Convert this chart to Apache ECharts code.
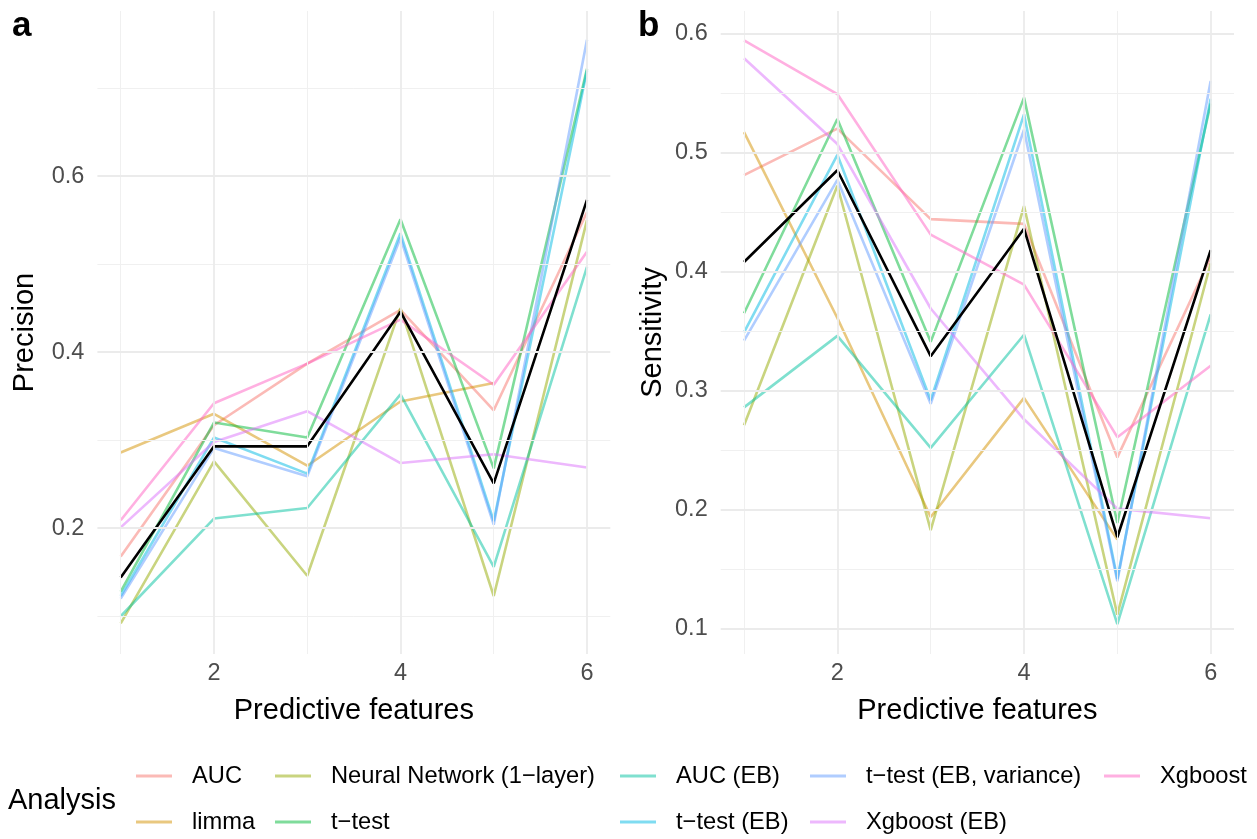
<!DOCTYPE html>
<html>
<head>
<meta charset="utf-8">
<script src="https://cdn.jsdelivr.net/npm/echarts@6/dist/echarts.min.js"></script>
<style>
html,body{margin:0;padding:0;background:#fff;}
#chart{width:1257px;height:839px;}
</style>
</head>
<body>
<div id="chart"></div>
<script>
// ---- data ----
const features = [1, 2, 3, 4, 5, 6];
const methods = ['AUC', 'limma', 'Neural Network (1\u2212layer)', 't\u2212test', 'AUC (EB)', 't\u2212test (EB)', 't\u2212test (EB, variance)', 'Xgboost (EB)', 'Xgboost'];

const precAUC        = [0.168, 0.317, 0.387, 0.448, 0.334, 0.559];
const precLimma      = [0.286, 0.330, 0.271, 0.344, 0.365, null];
const precNN         = [0.092, 0.276, 0.146, 0.450, 0.123, 0.550];
const precTtest      = [0.128, 0.320, 0.303, 0.551, 0.268, 0.722];
const precAucEB      = [0.100, 0.211, 0.223, 0.352, 0.156, 0.497];
const precTtestEB    = [0.123, 0.303, 0.262, 0.535, 0.208, 0.720];
const precTtestEBVar = [0.120, 0.291, 0.259, 0.530, 0.204, 0.755];
const precXgbEB      = [0.201, 0.298, 0.333, 0.274, 0.284, 0.269];
const precXgb        = [0.209, 0.342, 0.387, 0.437, 0.363, 0.514];
const precOverall    = [0.144, 0.293, 0.293, 0.446, 0.251, 0.573];

const sensAUC        = [0.481, 0.520, 0.444, 0.440, 0.244, 0.412];
const sensLimma      = [0.517, 0.361, 0.194, 0.294, 0.175, null];
const sensNN         = [0.271, 0.472, 0.183, 0.455, 0.112, 0.407];
const sensTtest      = [0.365, 0.528, 0.341, 0.546, 0.189, 0.541];
const sensAucEB      = [0.286, 0.346, 0.252, 0.347, 0.104, 0.364];
const sensTtestEB    = [0.349, 0.498, 0.292, 0.532, 0.142, 0.545];
const sensTtestEBVar = [0.342, 0.477, 0.289, 0.519, 0.140, 0.560];
const sensXgbEB      = [0.579, 0.507, 0.369, 0.276, 0.201, 0.193];
const sensXgb        = [0.594, 0.549, 0.431, 0.389, 0.261, 0.321];
const sensOverall    = [0.408, 0.485, 0.329, 0.436, 0.177, 0.418];

// tick labels / gridline positions
const xMajorTicks = [2, 4, 6];
const xMinorTicks = [1, 3, 5];
const precMajorTicks = [0.2, 0.4, 0.6];
const precMinorTicks = [0.1, 0.3, 0.5, 0.7];
const sensMajorTicks = [0.1, 0.2, 0.3, 0.4, 0.5, 0.6];
const sensMinorTicks = [0.15, 0.25, 0.35, 0.45, 0.55];

// ---- styles ----
const colors = ['rgba(248,118,109,0.5)', 'rgba(211,146,0,0.5)', 'rgba(147,170,0,0.5)', 'rgba(0,186,56,0.5)',
  'rgba(0,193,159,0.5)', 'rgba(0,185,227,0.5)', 'rgba(97,156,255,0.5)', 'rgba(219,114,251,0.5)', 'rgba(255,97,195,0.5)'];
const FONT = '"Liberation Sans", Arial, Helvetica, sans-serif';

const precSets = [precAUC, precLimma, precNN, precTtest, precAucEB, precTtestEB, precTtestEBVar, precXgbEB, precXgb];
const sensSets = [sensAUC, sensLimma, sensNN, sensTtest, sensAucEB, sensTtestEB, sensTtestEBVar, sensXgbEB, sensXgb];

function pairs(vals) { return features.map((f, i) => [f, vals[i]]); }

function gridLines(yMaj, yMin) {
  const major = {color: '#EBEBEB', width: 1.8, type: 'solid'};
  const minor = {color: '#F0F0F0', width: 1, type: 'solid'};
  const d = [];
  yMin.forEach(v => d.push({yAxis: v, lineStyle: minor}));
  xMinorTicks.forEach(v => d.push({xAxis: v, lineStyle: minor}));
  yMaj.forEach(v => d.push({yAxis: v, lineStyle: major}));
  xMajorTicks.forEach(v => d.push({xAxis: v, lineStyle: major}));
  return d;
}

const series = [];
[0, 1].forEach(gi => {
  const sets = gi === 0 ? precSets : sensSets;
  series.push({
    type: 'line', name: '__grid' + gi, xAxisIndex: gi, yAxisIndex: gi, data: [], z: 0, silent: true,
    markLine: {silent: true, symbol: ['none', 'none'], label: {show: false}, animation: false,
      data: gi === 0 ? gridLines(precMajorTicks, precMinorTicks) : gridLines(sensMajorTicks, sensMinorTicks)}
  });
  methods.forEach((m, i) => {
    series.push({
      type: 'line', name: m, xAxisIndex: gi, yAxisIndex: gi, data: pairs(sets[i]),
      showSymbol: false, symbol: 'none', connectNulls: false, z: 2,
      itemStyle: {color: colors[i]}, lineStyle: {color: colors[i], width: 2.6}
    });
  });
  series.push({
    type: 'line', name: 'Overall', xAxisIndex: gi, yAxisIndex: gi,
    data: pairs(gi === 0 ? precOverall : sensOverall),
    showSymbol: false, symbol: 'none', z: 3,
    itemStyle: {color: '#000'}, lineStyle: {color: '#000', width: 2.6}
  });
});

function xAxisDef(gi) {
  return {
    type: 'value', gridIndex: gi, min: 0.75, max: 6.25,
    name: 'Predictive features', nameLocation: 'middle', nameGap: 42,
    nameTextStyle: {fontSize: 29, color: '#000', fontFamily: FONT},
    axisLine: {show: false}, axisTick: {show: false}, splitLine: {show: false},
    axisLabel: {customValues: xMajorTicks, fontSize: 23.5, color: '#4D4D4D', margin: 8, fontFamily: FONT}
  };
}
function yAxisDef(gi, name, min, max, ticks, gap) {
  return {
    type: 'value', gridIndex: gi, min: min, max: max,
    name: name, nameLocation: 'middle', nameGap: gap, nameRotate: 90,
    nameTextStyle: {fontSize: 29, color: '#000', fontFamily: FONT},
    axisLine: {show: false}, axisTick: {show: false}, splitLine: {show: false},
    axisLabel: {customValues: ticks, fontSize: 23.5, color: '#4D4D4D', margin: 13, fontFamily: FONT,
      formatter: v => v.toFixed(1)}
  };
}

function legendCol(left, names) {
  return {
    left: left, top: 763, orient: 'vertical', padding: 0, itemGap: 20,
    itemWidth: 36, itemHeight: 3, icon: 'rect', data: names,
    selectedMode: false,
    textStyle: {fontSize: 23.7, color: '#000', fontFamily: FONT, lineHeight: 26, padding: [0, 0, 0, 15]}
  };
}

const option = {
  animation: false,
  backgroundColor: '#fff',
  textStyle: {fontFamily: FONT},
  title: [
    {text: 'a', left: 7, top: 4, textStyle: {fontSize: 35, fontWeight: 'bold', color: '#000', fontFamily: FONT}},
    {text: 'b', left: 633, top: 4, textStyle: {fontSize: 35, fontWeight: 'bold', color: '#000', fontFamily: FONT}},
    {text: 'Analysis', left: 3, top: 781, textStyle: {fontSize: 29, fontWeight: 'normal', color: '#000', fontFamily: FONT}}
  ],
  legend: [
    legendCol(136, [methods[0], methods[1]]),
    legendCol(275, [methods[2], methods[3]]),
    legendCol(620, [methods[4], methods[5]]),
    legendCol(810, [methods[6], methods[7]]),
    legendCol(1104, [methods[8]])
  ],
  grid: [
    {left: 97.4, top: 11, width: 512.9, height: 643},
    {left: 720.7, top: 11, width: 513.3, height: 643}
  ],
  xAxis: [xAxisDef(0), xAxisDef(1)],
  yAxis: [
    yAxisDef(0, 'Precision', 0.0571, 0.7876, precMajorTicks, 58),
    yAxisDef(1, 'Sensitivity', 0.079, 0.6187, sensMajorTicks, 53)
  ],
  series: series
};

const chart = echarts.init(document.getElementById('chart'), null, {renderer: 'canvas'});
chart.setOption(option);
</script>
</body>
</html>
